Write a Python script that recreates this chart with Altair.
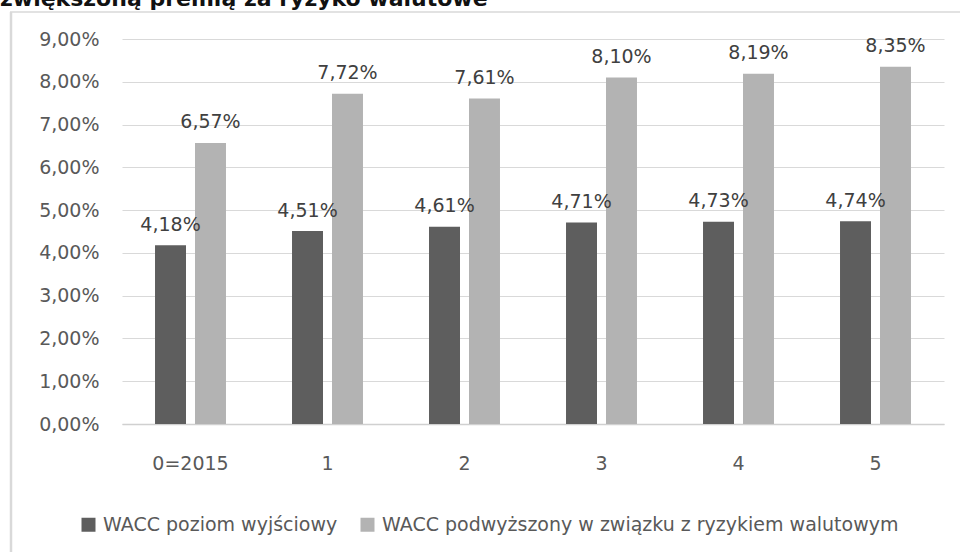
import altair as alt
import pandas as pd

# Years of the forecast horizon
years = ["0=2015", "1", "2", "3", "4", "5"]

# Series names
series = [
    "WACC poziom wyjściowy",
    "WACC podwyższony w związku z ryzykiem walutowym",
]

# WACC values in percent
wacc_base = [4.18, 4.51, 4.61, 4.71, 4.73, 4.74]
wacc_fx = [6.57, 7.72, 7.61, 8.10, 8.19, 8.35]

title_text = "zwiększoną premią za ryzyko walutowe"

rows = []
for y, b, f in zip(years, wacc_base, wacc_fx):
    rows.append({"rok": y, "seria": series[0], "wartosc": b})
    rows.append({"rok": y, "seria": series[1], "wartosc": f})
df = pd.DataFrame(rows)

FONT = "DejaVu Sans"
W, H = 822, 385

x_enc = alt.X(
    "rok:N",
    sort=years,
    scale=alt.Scale(paddingInner=0.482, paddingOuter=0.241),
    axis=alt.Axis(
        title=None,
        labelAngle=0,
        labelFont=FONT,
        labelFontSize=19,
        labelColor="#595959",
        labelPadding=30,
        ticks=False,
        domainColor="#d0d0d0",
        domainWidth=1.5,
    ),
)
xoff_enc = alt.XOffset(
    "seria:N",
    sort=series,
    scale=alt.Scale(domain=series, paddingInner=0.225, paddingOuter=0),
)
y_enc = alt.Y(
    "wartosc:Q",
    scale=alt.Scale(domain=[0, 9], nice=False),
    axis=alt.Axis(
        title=None,
        values=list(range(10)),
        labelExpr="replace(format(datum.value, '.2f'), '.', ',') + '%'",
        labelFont=FONT,
        labelFontSize=19,
        labelColor="#595959",
        labelPadding=23,
        ticks=False,
        domain=False,
        gridColor="#d9d9d9",
        gridWidth=1,
    ),
)

base = alt.Chart(df)

bars = base.mark_bar().encode(
    x=x_enc,
    xOffset=xoff_enc,
    y=y_enc,
    color=alt.Color(
        "seria:N",
        sort=series,
        scale=alt.Scale(domain=series, range=["#5e5e5e", "#b3b3b3"]),
        legend=alt.Legend(
            title=None,
            orient="none",
            direction="horizontal",
            legendX=-43,
            legendY=476,
            symbolType="square",
            symbolSize=196,
            symbolStrokeWidth=0,
            labelFont=FONT,
            labelFontSize=19,
            labelColor="#595959",
            labelLimit=1000,
            labelOffset=5,
            columnPadding=20,
            padding=0,
        ),
    ),
)

labels = base.transform_calculate(
    etykieta="replace(format(datum.wartosc, '.2f'), '.', ',') + '%'"
).mark_text(
    font=FONT, fontSize=19, color="#404040", baseline="middle", dy=-20.5
).encode(
    x=x_enc,
    xOffset=xoff_enc,
    y=y_enc,
    text="etykieta:N",
)

# Outer chart frame (left and top edges)
frame_left = alt.Chart(pd.DataFrame({"k": [0]})).mark_rule(
    color="#d9d9d9", strokeWidth=2.5
).encode(x=alt.value(-111), y=alt.value(-27), y2=alt.value(520))
frame_top = alt.Chart(pd.DataFrame({"k": [0]})).mark_rule(
    color="#d9d9d9", strokeWidth=1.5
).encode(x=alt.value(-112), x2=alt.value(850), y=alt.value(-27))

title = alt.Chart(pd.DataFrame({"t": [title_text]})).mark_text(
    font=FONT, fontSize=22, fontWeight="bold", color="#111111",
    align="left", baseline="alphabetic",
).encode(text="t:N", x=alt.value(-122), y=alt.value(-33))

chart = (
    alt.layer(frame_left, frame_top, title, bars, labels)
    .properties(
        width=W,
        height=H,
        background="white",
        autosize=alt.AutoSizeParams(type="none"),
        padding={"left": 122, "top": 39, "right": 16, "bottom": 128},
    )
    .configure_view(strokeWidth=0)
)

chart.save("out.html", embed_options={"renderer": "svg", "actions": False})
